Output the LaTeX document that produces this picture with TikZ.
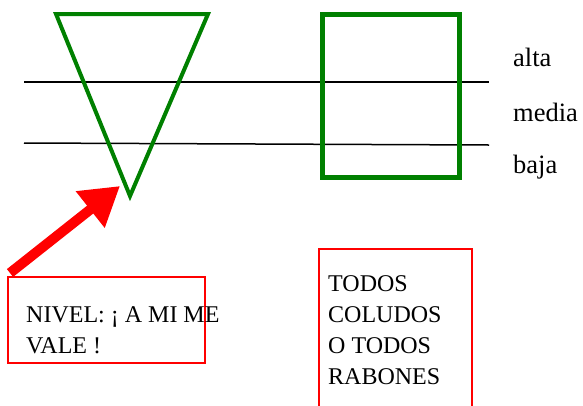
\documentclass[tikz,border=0pt]{standalone}
\usepackage{fontspec}
\setmainfont{Liberation Serif}
\usetikzlibrary{arrows.meta}
\definecolor{vgreen}{RGB}{0,128,0}
\begin{document}
\begin{tikzpicture}[x=1pt,y=-1pt,
    lbl/.style={anchor=base west,inner sep=0pt,font=\fontsize{24}{31}\selectfont,align=left},
    lvl/.style={lbl,font=\fontsize{26.5}{31}\selectfont}]
    \useasboundingbox (0,0) rectangle (583,405);
    % levels
    \draw[line width=1.5pt] (24,82) -- (489,82);
    \draw[line width=1.5pt] (24,143) -- (489,145);
    \node[lvl] (alta) at (513,66) {alta};
    \node[lvl] (media) at (513,121) {media};
    \node[lvl] (baja) at (513,173) {baja};
    % shapes
    \draw[vgreen,line width=4pt] (56,14) -- (208,14) -- (130,196) -- cycle;
    \draw[vgreen,line width=5pt] (322,14) rectangle (459,177);
    % boxes (base anchor = last line)
    \draw[red,line width=2pt] (8,277) rectangle (205,363);
    \draw[red,line width=2pt] (319,249) rectangle (472,420);
    \node[lbl] (nivel) at (26,353) {NIVEL: ¡ A MI ME\\VALE !};
    \node[lbl] (todos) at (328,384) {TODOS\\COLUDOS\\O TODOS\\RABONES};
    % arrow
    \coordinate (tail) at (10,273);
    \coordinate (tip) at (120,186);
    \draw[red,line width=10pt,-{Triangle[length=38pt,width=44pt]}] (tail) -- (tip);
\end{tikzpicture}
\end{document}
